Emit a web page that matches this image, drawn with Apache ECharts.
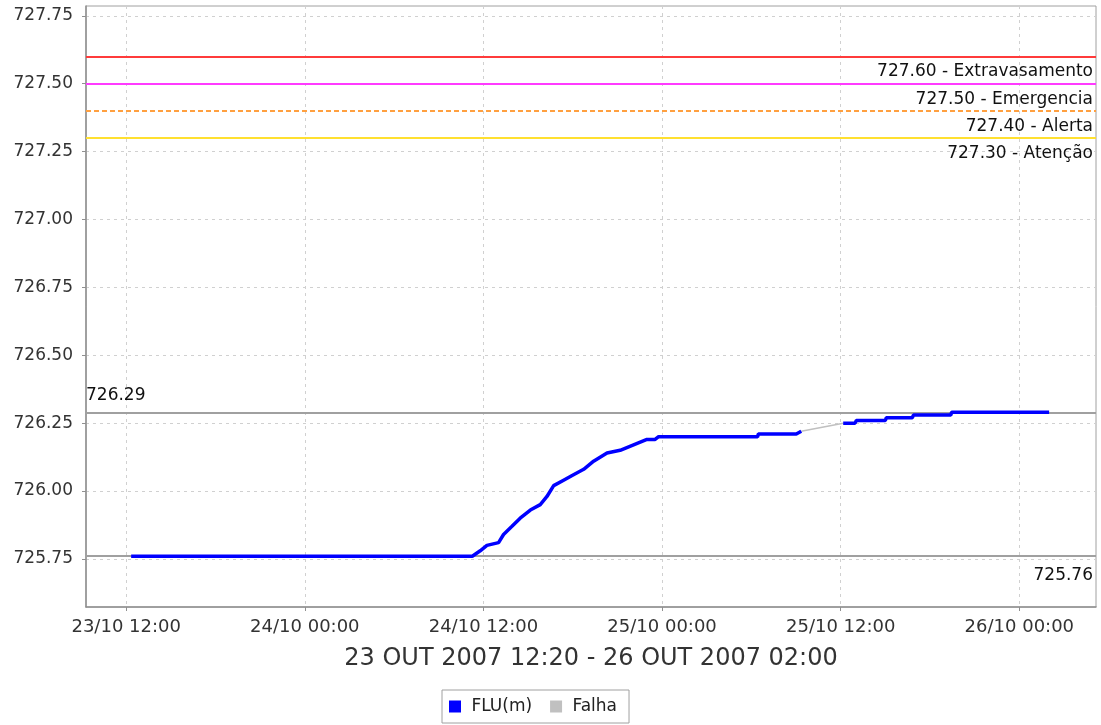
<!DOCTYPE html>
<html>
<head>
<meta charset="utf-8">
<script src="https://cdn.jsdelivr.net/npm/echarts@6/dist/echarts.min.js"></script>
<style>
html,body{margin:0;padding:0;background:#fff;}
#chart{width:1101px;height:725px;}
</style>
</head>
<body>
<div id="chart"></div>
<script>
// ---- Data ----
// times as "DD/MM HH:MM" (October 2007)
const fluTimes = [
  '23/10 12:20','24/10 11:15','24/10 11:47','24/10 12:14','24/10 13:01','24/10 13:21',
  '24/10 13:55','24/10 14:28','24/10 15:09','24/10 15:49','24/10 16:16','24/10 16:43',
  '24/10 17:23','24/10 18:03','24/10 18:44','24/10 19:24','24/10 20:18','24/10 21:11',
  '24/10 22:05','24/10 22:59','24/10 23:32','24/10 23:46','25/10 06:25','25/10 06:28',
  '25/10 09:01','25/10 09:21',null,
  '25/10 12:10','25/10 12:58','25/10 13:03','25/10 15:00','25/10 15:04','25/10 16:49',
  '25/10 16:53','25/10 19:24','25/10 19:27','26/10 02:00'
];
const fluValues = [
  725.76,725.76,725.78,725.80,725.81,725.84,
  725.87,725.90,725.93,725.95,725.98,726.02,
  726.04,726.06,726.08,726.11,726.14,726.15,
  726.17,726.19,726.19,726.20,726.20,726.21,
  726.21,726.22,null,
  726.25,726.25,726.26,726.26,726.27,726.27,
  726.28,726.28,726.29,726.29
];
const falhaTimes = ['25/10 09:21','25/10 12:10'];
const falhaValues = [726.22, 726.25];

const thresholdValues = [727.60, 727.50, 727.40, 727.30];
const thresholdNames = ['Extravasamento','Emergencia','Alerta','Atenção'];
const thresholdColors = ['#ff3b3b','#ff3bff','#ffa040','#ffe030'];
const thresholdDashed = [false,false,true,false];

const dataMax = 726.29;
const dataMin = 725.76;

const yTicks = [725.75,726.00,726.25,726.50,726.75,727.00,727.25,727.50,727.75];
const xTickLabels = ['23/10 12:00','24/10 00:00','24/10 12:00','25/10 00:00','25/10 12:00','26/10 00:00'];
const subtitle = '23 OUT 2007 12:20 - 26 OUT 2007 02:00';
const legendNames = ['FLU(m)','Falha'];

// ---- helpers ----
function toHours(s){ // hours since 23/10 00:00
  const [d, t] = s.split(' ');
  const day = parseInt(d.split('/')[0], 10);
  const [hh, mm] = t.split(':').map(Number);
  return (day - 23) * 24 + hh + mm / 60;
}
const xTickValues = xTickLabels.map(toHours);
const labelByHour = {};
xTickLabels.forEach((l, i) => { labelByHour[xTickValues[i]] = l; });

const fluData = fluTimes.map((t, i) => t === null ? [null, null] : [toHours(t), fluValues[i]]);
const falhaData = falhaTimes.map((t, i) => [toHours(t), falhaValues[i]]);

const FONT = 'DejaVu Sans';

const thresholdLines = thresholdValues.map((v, i) => ({
  yAxis: v,
  lineStyle: { color: thresholdColors[i], width: 2, type: thresholdDashed[i] ? [5, 3] : 'solid' },
  label: {
    show: true, position: 'insideEndBottom', distance: [3, 7],
    formatter: v.toFixed(2) + ' - ' + thresholdNames[i],
    color: '#111', fontFamily: FONT, fontSize: 17
  }
}));
const rangeLines = [
  { yAxis: dataMax, lineStyle: { color: '#a0a0a0', width: 2, type: 'solid' },
    label: { show: true, position: 'insideStartTop', distance: [0, 8], formatter: dataMax.toFixed(2),
             color: '#111', fontFamily: FONT, fontSize: 17 } },
  { yAxis: dataMin, lineStyle: { color: '#a0a0a0', width: 2, type: 'solid' },
    label: { show: true, position: 'insideEndBottom', distance: [3, 11], formatter: dataMin.toFixed(2),
             color: '#111', fontFamily: FONT, fontSize: 17 } }
];

const chart = echarts.init(document.getElementById('chart'), null, { renderer: 'canvas' });
chart.setOption({
  animation: false,
  backgroundColor: '#ffffff',
  grid: { left: 86, top: 6, width: 1010, height: 601, show: true, borderColor: '#a0a0a0', borderWidth: 1, backgroundColor: '#fff' },
  xAxis: {
    type: 'value', min: 9.3, max: 77.15,
    axisLine: { show: true, lineStyle: { color: '#909090', width: 1.5 } },
    axisTick: { show: true, length: 4, lineStyle: { color: '#909090' }, customValues: xTickValues },
    axisLabel: { customValues: xTickValues, margin: 11, fontFamily: FONT, fontSize: 18, color: '#333',
                 formatter: v => labelByHour[v] || '' },
    splitLine: { show: true, lineStyle: { color: '#d0d0d0', type: [3, 4] } },
    name: subtitle, nameLocation: 'middle', nameGap: 40,
    nameTextStyle: { fontFamily: FONT, fontSize: 24, color: '#333' }
  },
  yAxis: {
    type: 'value', min: 725.573, max: 727.786,
    axisLine: { show: true, lineStyle: { color: '#909090', width: 1.5 } },
    axisTick: { show: true, length: 4, lineStyle: { color: '#909090' }, customValues: yTicks },
    axisLabel: { customValues: yTicks, margin: 13, fontFamily: FONT, fontSize: 17, color: '#333',
                 formatter: v => v.toFixed(2) },
    splitLine: { show: true, lineStyle: { color: '#d0d0d0', type: [3, 4] } }
  },
  legend: {
    data: [{ name: legendNames[0], icon: 'rect' }, { name: legendNames[1], icon: 'rect' }],
    left: 442, top: 690, orient: 'horizontal',
    itemWidth: 12, itemHeight: 12, itemGap: 18, itemTextGap: 10,
    formatter: name => ' ' + name,
    padding: [8, 12, 8, 7],
    borderColor: '#a0a0a0', borderWidth: 1,
    textStyle: { fontFamily: FONT, fontSize: 17, color: '#222' }
  },
  series: [
    {
      name: legendNames[1], type: 'line', data: falhaData, symbol: 'none',
      lineStyle: { color: '#c0c0c0', width: 1.5 }, itemStyle: { color: '#c0c0c0' }, z: 3,
      markLine: { silent: true, symbol: ['none', 'none'], data: rangeLines.concat(thresholdLines), z: 1 }
    },
    {
      name: legendNames[0], type: 'line', data: fluData, symbol: 'none', connectNulls: false,
      lineStyle: { color: '#0000ff', width: 3.5 }, itemStyle: { color: '#0000ff' }, z: 4
    }
  ]
});
</script>
</body>
</html>
